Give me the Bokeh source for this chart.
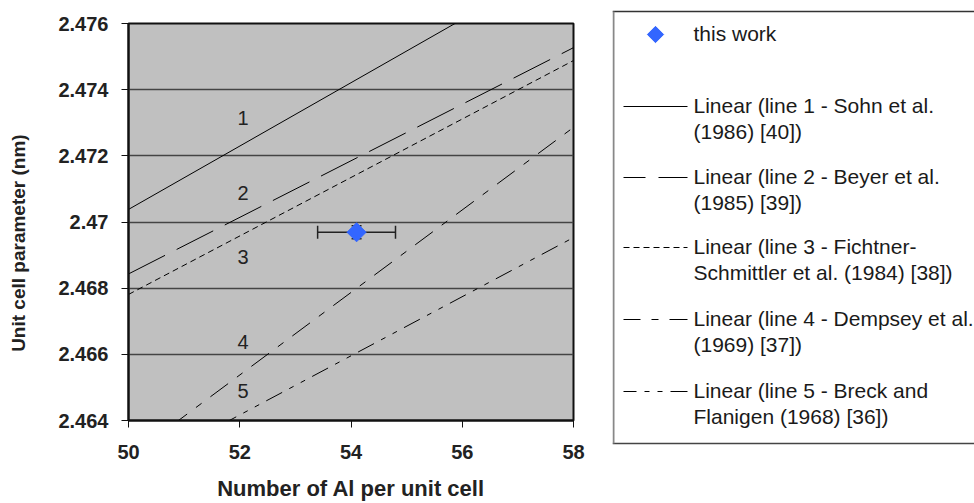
from bokeh.plotting import figure
from bokeh.layouts import row
from bokeh.models import Range1d, FixedTicker, ColumnDataSource, Whisker, TeeHead
from bokeh.core.properties import value
from bokeh.embed import file_html
from bokeh.resources import INLINE

# ---------------- data ----------------
x_ticks = [50, 52, 54, 56, 58]
y_ticks = [2.464, 2.466, 2.468, 2.470, 2.472, 2.474, 2.476]
y_tick_labels = ["2.464", "2.466", "2.468", "2.47", "2.472", "2.474", "2.476"]

line_x = [50, 58]
line1_y = [2.47038, 2.47804]
line2_y = [2.46843, 2.47527]
line3_y = [2.46781, 2.47488]
line4_y = [2.46288, 2.47286]
line5_y = [2.46238, 2.46953]

num_x = [52.06, 52.06, 52.06, 52.06, 52.06]
num_y = [2.47313, 2.47089, 2.46894, 2.46637, 2.46489]
num_text = ["1", "2", "3", "4", "5"]

work_x = [54.1]
work_y = [2.46969]
work_xerr = [0.7]
work_yerr = [0.0002]

x_title = "Number of Al per unit cell"
y_title = "Unit cell parameter (nm)"

legend_first = ["Linear (line 1 - Sohn et al.",
                "Linear (line 2 - Beyer et al.",
                "Linear (line 3 - Fichtner-",
                "Linear (line 4 - Dempsey et al.",
                "Linear (line 5 - Breck and"]
legend_second = ["(1986) [40])",
                 "(1985) [39])",
                 "Schmittler et al. (1984) [38])",
                 "(1969) [37])",
                 "Flanigen (1968) [36])"]

# ---------------- styles ----------------
FONT = "Liberation Sans"
dashes = ["solid", "41 13", "6 4", "22 11 7 11", "18 8 5 8 5 8"]
legend_offsets = [0, 19, 0, 5, 5]
series_y = [line1_y, line2_y, line3_y, line4_y, line5_y]

p = figure(width=612, height=503, output_backend="svg", toolbar_location=None,
           x_range=Range1d(50, 58), y_range=Range1d(2.464, 2.476),
           min_border_left=128, min_border_right=39, min_border_top=23,
           min_border_bottom=83)
try:
    p.frame_align = False
except Exception:
    pass
p.background_fill_color = "#C0C0C0"
p.border_fill_color = "white"
p.outline_line_color = "#111111"
p.outline_line_width = 2

p.xgrid.visible = False
p.ygrid.ticker = FixedTicker(ticks=y_ticks)
p.ygrid.grid_line_color = "#444444"
p.ygrid.grid_line_width = 1.5

p.xaxis.ticker = FixedTicker(ticks=x_ticks)
p.yaxis.ticker = FixedTicker(ticks=y_ticks)
p.yaxis.major_label_overrides = {t: l for t, l in zip(y_ticks, y_tick_labels)}

for ax in (p.xaxis, p.yaxis):
    ax.axis_line_color = "#111111"
    ax.axis_line_width = 2
    ax.major_tick_line_color = "#111111"
    ax.major_tick_in = 0
    ax.major_tick_out = 7
    ax.minor_tick_line_color = None
    ax.major_label_text_font = FONT
    ax.major_label_text_font_style = "bold"
    ax.major_label_text_font_size = "20px"
    ax.major_label_text_color = "#222222"
    ax.axis_label_text_font = FONT
    ax.axis_label_text_font_style = "bold"
    ax.axis_label_text_color = "#222222"

p.xaxis.major_label_text_line_height = 1.0
p.xaxis.axis_label_text_line_height = 1.0
p.xaxis.major_label_standoff = 17
p.yaxis.major_label_standoff = 13
p.xaxis.axis_label = x_title
p.xaxis.axis_label_text_font_size = "22px"
p.xaxis.axis_label_standoff = 14
# trailing no-break spaces shift the rotated title downwards like the reference
p.yaxis.axis_label = y_title + "\u00a0" * 8
p.yaxis.axis_label_text_font_size = "19px"
p.yaxis.axis_label_standoff = 26

for ys, d in zip(series_y, dashes):
    p.line(line_x, ys, line_color="black", line_width=1, line_dash=d)

p.text(num_x, num_y, text=num_text, text_font=value(FONT), text_font_size="20px",
       text_color="#222222", text_align="center", text_baseline="middle")

src = ColumnDataSource(dict(
    x=work_x, y=work_y,
    xl=[a - b for a, b in zip(work_x, work_xerr)],
    xu=[a + b for a, b in zip(work_x, work_xerr)],
    yl=[a - b for a, b in zip(work_y, work_yerr)],
    yu=[a + b for a, b in zip(work_y, work_yerr)],
))
p.add_layout(Whisker(source=src, base="y", lower="xl", upper="xu", dimension="width",
                     line_color="#222222", line_width=1.5,
                     lower_head=TeeHead(size=13, line_color="#222222", line_width=1.5),
                     upper_head=TeeHead(size=13, line_color="#222222", line_width=1.5)))
p.add_layout(Whisker(source=src, base="x", lower="yl", upper="yu", dimension="height",
                     line_color="#222222", line_width=1.5,
                     lower_head=TeeHead(size=10, line_color="#222222", line_width=1.5),
                     upper_head=TeeHead(size=10, line_color="#222222", line_width=1.5)))
p.scatter("x", "y", source=src, marker="square", angle=0.785398, size=13.5,
          fill_color="#3366FF", line_color="#3366FF")

# ---------------- legend panel (page pixel coordinates) ----------------
lg = figure(width=362, height=503, output_backend="svg", toolbar_location=None,
            x_range=Range1d(612, 974), y_range=Range1d(503, 0), min_border=0)
try:
    lg.frame_align = False
except Exception:
    pass
lg.axis.visible = False
lg.grid.visible = False
lg.outline_line_color = None
lg.background_fill_color = "white"
lg.border_fill_color = "white"

lg.segment([612], [11], [974], [11], line_color="#333333", line_width=1.5)
lg.segment([612], [443], [974], [443], line_color="#444444", line_width=1.5)
lg.segment([613], [11], [613], [443], line_color="#888888", line_width=2)

lg.scatter([655], [34], marker="square", angle=0.785398, size=11.5,
           fill_color="#3366FF", line_color="#3366FF")
lg.text([693], [33], text=["this work"], text_font=value(FONT), text_font_size="21px",
        text_color="#1a1a1a", text_baseline="middle", text_align="left")

entry_y = [105, 176, 246, 318, 390]
for i in range(5):
    y0 = entry_y[i]
    lg.line([623, 687], [y0 + 1, y0 + 1], line_color="black", line_width=1,
            line_dash=dashes[i], line_dash_offset=legend_offsets[i])
    lg.text([693, 693], [y0, y0 + 26], text=[legend_first[i], legend_second[i]],
            text_font=value(FONT), text_font_size="21px", text_color="#1a1a1a",
            text_baseline="middle", text_align="left")

open("out.html", "w").write(file_html(row(p, lg), INLINE))
